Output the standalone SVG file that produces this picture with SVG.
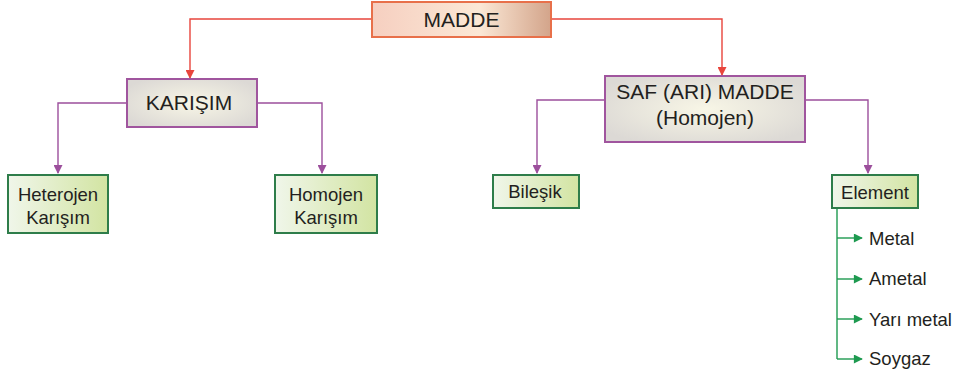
<svg xmlns="http://www.w3.org/2000/svg" width="959" height="375" viewBox="0 0 959 375">
<defs>
<linearGradient id="gMadde" x1="0" y1="0" x2="1" y2="0">
<stop offset="0" stop-color="#f6cfc0"/>
<stop offset="0.6" stop-color="#fbe8d6"/>
<stop offset="1" stop-color="#d3a48a"/>
</linearGradient>
<radialGradient id="gGray" cx="0.5" cy="0.5" r="0.6">
<stop offset="0" stop-color="#f8f6e6"/>
<stop offset="1" stop-color="#dcd9d5"/>
</radialGradient>
<linearGradient id="gGreen" x1="0" y1="0" x2="1" y2="0">
<stop offset="0" stop-color="#f0f6ea"/>
<stop offset="1" stop-color="#d2e4a2"/>
</linearGradient>
<marker id="aRed" viewBox="0 0 10 10" refX="9" refY="5" markerWidth="10" markerHeight="9" markerUnits="userSpaceOnUse" orient="auto"><path d="M0,0 L10,5 L0,10 Z" fill="#e8453c"/></marker>
<marker id="aPur" viewBox="0 0 10 10" refX="9" refY="5" markerWidth="10" markerHeight="9" markerUnits="userSpaceOnUse" orient="auto"><path d="M0,0 L10,5 L0,10 Z" fill="#9c4f9c"/></marker>
<marker id="aGrn" viewBox="0 0 10 10" refX="9" refY="5" markerWidth="12" markerHeight="9" markerUnits="userSpaceOnUse" orient="auto"><path d="M0,0 L10,5 L0,10 Z" fill="#1e9a50"/></marker>
</defs>
<style>
text{font-family:"Liberation Sans",Arial,sans-serif;fill:#231f20;}
.big{font-size:21px;text-anchor:middle;}
.sm{font-size:18.5px;text-anchor:middle;}
.lf{font-size:18.5px;}
.red{fill:none;stroke:#e8453c;stroke-width:1.4;}
.pur{fill:none;stroke:#9c4f9c;stroke-width:1.4;}
.grn{fill:none;stroke:#1e9a50;stroke-width:1.4;}
.bx-g{fill:url(#gGreen);stroke:#2e7d4a;stroke-width:2;}
.bx-p{fill:url(#gGray);stroke:#a0559e;stroke-width:2;}
</style>
<g id="connectors">
<path class="red" d="M372,19 H190 V78" marker-end="url(#aRed)"/>
<path class="red" d="M551,19 H722 V75" marker-end="url(#aRed)"/>
<path class="pur" d="M127,103 H58 V173" marker-end="url(#aPur)"/>
<path class="pur" d="M257,103 H322 V173" marker-end="url(#aPur)"/>
<path class="pur" d="M605,100 H537 V173" marker-end="url(#aPur)"/>
<path class="pur" d="M805,100 H868 V173" marker-end="url(#aPur)"/>
<path class="grn" d="M837,208 V359"/>
<path class="grn" d="M837,238 H862" marker-end="url(#aGrn)"/>
<path class="grn" d="M837,279 H862" marker-end="url(#aGrn)"/>
<path class="grn" d="M837,319 H862" marker-end="url(#aGrn)"/>
<path class="grn" d="M837,359 H862" marker-end="url(#aGrn)"/>
</g>
<g id="madde">
<rect x="372" y="2" width="179" height="35" fill="url(#gMadde)" stroke="#e8704a" stroke-width="2"/>
<text class="big" x="461.5" y="27">MADDE</text>
</g>
<g id="karisim">
<rect class="bx-p" x="127" y="79" width="130" height="48"/>
<text class="big" x="189" y="110">KARIŞIM</text>
</g>
<g id="saf">
<rect class="bx-p" x="605" y="76" width="200" height="66"/>
<text class="big" x="705" y="99">SAF (ARI) MADDE</text>
<text class="big" x="705" y="125">(Homojen)</text>
</g>
<g id="heterojen">
<rect class="bx-g" x="8" y="175" width="100" height="58"/>
<text class="sm" x="58" y="201">Heterojen</text>
<text class="sm" x="58" y="224">Karışım</text>
</g>
<g id="homojen">
<rect class="bx-g" x="275" y="175" width="102" height="58"/>
<text class="sm" x="326" y="201">Homojen</text>
<text class="sm" x="326" y="224">Karışım</text>
</g>
<g id="bilesik">
<rect class="bx-g" x="493" y="175" width="86" height="33"/>
<text class="sm" x="535" y="198">Bileşik</text>
</g>
<g id="element">
<rect class="bx-g" x="832" y="175" width="86" height="33"/>
<text class="sm" x="875" y="199">Element</text>
</g>
<g id="metal"><text class="lf" x="869" y="245">Metal</text></g>
<g id="ametal"><text class="lf" x="869" y="285">Ametal</text></g>
<g id="yarimetal"><text class="lf" x="869" y="326">Yarı metal</text></g>
<g id="soygaz"><text class="lf" x="869" y="365">Soygaz</text></g>
</svg>
